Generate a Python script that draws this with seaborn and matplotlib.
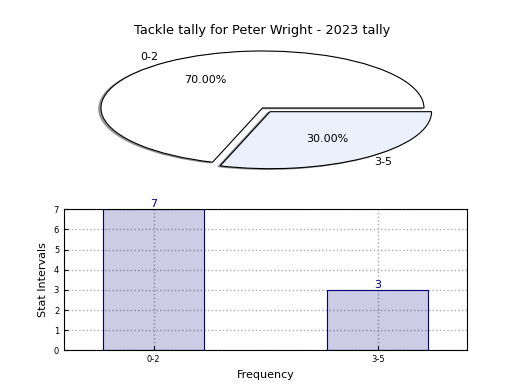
import matplotlib
matplotlib.use('Agg')
import matplotlib.pyplot as plt
import seaborn as sns
import pandas as pd

# data
categories = ['0-2', '3-5']
counts = [7, 3]
pie_colors = ['#ffffff', '#eaf1fc']
title = 'Tackle tally for Peter Wright - 2023 tally'

df = pd.DataFrame({'interval': categories, 'count': counts})

fig = plt.figure(figsize=(5.2, 3.9), dpi=100)
ax1 = fig.add_axes([0.1165, 0.5404, 0.7765, 0.3654])
ax2 = fig.add_axes([0.1231, 0.1018, 0.7756, 0.3615])

# pie on top, not forced to equal aspect so it stays flattened
ax1.pie(df['count'], labels=df['interval'], autopct='%.2f%%', explode=[0, 0.08],
        shadow={'ox': -0.01, 'oy': -0.01}, colors=pie_colors, startangle=0,
        wedgeprops={'edgecolor': 'black', 'linewidth': 0.8},
        textprops={'fontsize': 8})
ax1.set_aspect('auto')
ax1.set_title(title, fontsize=9.3, pad=1.5)

# bar chart below, translucent fill so the grid shows through
sns.barplot(data=df, x='interval', y='count', ax=ax2, width=0.45,
            facecolor=(0, 0, 0.5, 0.2), edgecolor='navy', linewidth=0.8)
ax2.set_xlim(-0.4, 1.4)
ax2.set_ylim(0, 7)
ax2.set_yticks(range(0, 8))
ax2.set_axisbelow(True)
ax2.grid(True, linestyle=':', color='#aaaaaa', linewidth=1)
ax2.tick_params(direction='in', labelsize=6, length=3)
ax2.set_xlabel('Frequency', fontsize=8)
ax2.set_ylabel('Stat Intervals', fontsize=8)
for i, v in enumerate(counts):
    ax2.text(i, v, str(v), ha='center', va='bottom', color='navy', fontsize=8)

plt.savefig('out.png', dpi=100)
